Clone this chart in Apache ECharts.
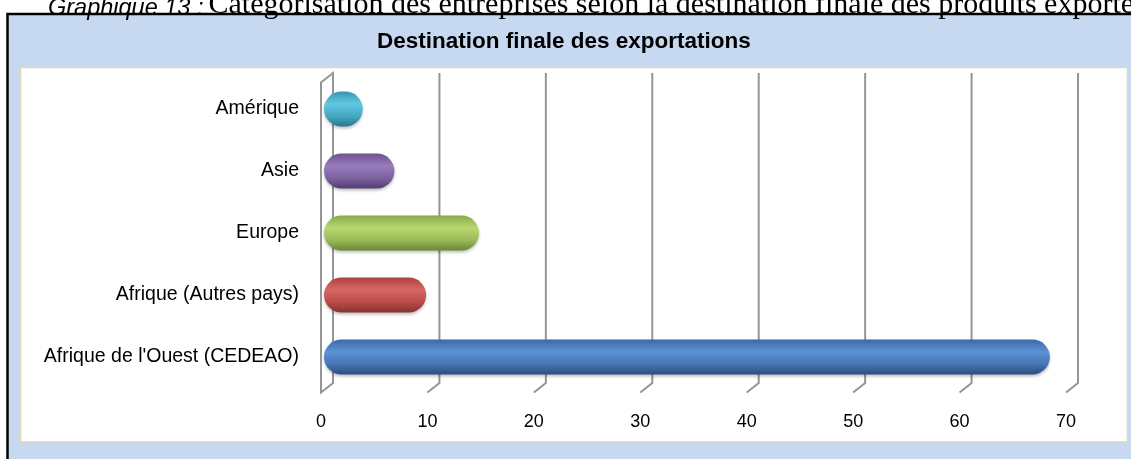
<!DOCTYPE html>
<html>
<head>
<meta charset="utf-8">
<script src="https://cdn.jsdelivr.net/npm/echarts@6/dist/echarts.min.js"></script>
<style>
  body { margin: 0; background: #fff; }
  #chart { width: 1131px; height: 459px; }
</style>
</head>
<body>
<div id="chart"></div>
<script>
// categories from bottom to top (category axis runs upward)
const categories = [
  "Afrique de l'Ouest (CEDEAO)",
  "Afrique (Autres pays)",
  "Europe",
  "Asie",
  "Amérique",
];
const values = [68, 9, 14, 6, 3];
const xTicks = [0, 10, 20, 30, 40, 50, 60, 70];
// [edge, highlight, body, shadow] per bar
const barColors = [
  ["#3c6aa3", "#5c92d4", "#4676b5", "#2a4f7e"],
  ["#a8423f", "#d96764", "#bb4c49", "#863130"],
  ["#88a74a", "#b9d870", "#9bbb59", "#6b8733"],
  ["#6c5190", "#987cbd", "#7d62a0", "#533d71"],
  ["#3896b0", "#62c7e2", "#45a9c4", "#28778d"],
];

const chart = echarts.init(document.getElementById("chart"));

const cylinder = (c) =>
  new echarts.graphic.LinearGradient(0, 0, 0, 1, [
    { offset: 0, color: c[0] },
    { offset: 0.35, color: c[1] },
    { offset: 0.7, color: c[2] },
    { offset: 1, color: c[3] },
  ]);

// 3D-ish wall: back gridlines with a short diagonal foot, left wall for 0
const depthX = 12;
const depthY = 9.5;
const renderGrid = (params, api) => {
  const x = api.coord([api.value(0), 0])[0];
  const cs = params.coordSys;
  const top = cs.y;
  const bottom = cs.y + cs.height;
  const style = { stroke: "#959595", lineWidth: 2, fill: null };
  if (api.value(0) === 0) {
    return {
      type: "polygon",
      shape: {
        points: [
          [x, top],
          [x, bottom],
          [x - depthX, bottom + depthY],
          [x - depthX, top + depthY],
        ],
      },
      style: style,
    };
  }
  return {
    type: "polyline",
    shape: {
      points: [
        [x, top],
        [x, bottom],
        [x - depthX, bottom + depthY],
      ],
    },
    style: style,
  };
};

// capsule bars: rounded caps stick out a little past both ends
const barH = 35;
const renderBar = (params, api) => {
  const idx = api.value(1);
  const start = api.coord([0, idx]);
  const end = api.coord([api.value(0), idx]);
  const x0 = start[0] - 3;
  const x1 = end[0] + 4;
  return {
    type: "rect",
    shape: {
      x: x0,
      y: start[1] - barH / 2,
      width: x1 - x0,
      height: barH,
      r: barH / 2,
    },
    style: {
      fill: cylinder(barColors[idx]),
      shadowBlur: 3,
      shadowOffsetY: 2,
      shadowColor: "rgba(0,0,0,0.25)",
    },
  };
};

const option = {
  animation: false,
  title: [
    {
      text: "{a|Graphique 13 :} {b|Catégorisation des entreprises selon la destination finale des produits exportés}",
      left: 48,
      top: -10,
      padding: 0,
      textStyle: {
        fontWeight: "normal",
        rich: {
          a: {
            fontFamily: "Liberation Sans",
            fontStyle: "italic",
            fontWeight: "normal",
            fontSize: 23.5,
            verticalAlign: "bottom",
            color: "#000",
          },
          b: {
            fontFamily: "Liberation Serif",
            fontWeight: "normal",
            fontSize: 30,
            verticalAlign: "bottom",
            color: "#000",
          },
        },
      },
    },
    {
      text: "Destination finale des exportations",
      left: 372,
      top: 25,
      textStyle: {
        fontFamily: "Liberation Sans",
        fontWeight: "bold",
        fontSize: 22.5,
        color: "#000",
      },
    },
  ],
  graphic: [
    {
      type: "rect",
      z: -10,
      shape: { x: 7.5, y: 14, width: 1140, height: 470 },
      style: { fill: "#c6d9f1", stroke: "#000", lineWidth: 2.5 },
    },
    {
      type: "rect",
      z: -9,
      shape: { x: 20.5, y: 67.5, width: 1107, height: 374.5 },
      style: { fill: "#fff", stroke: "#ddd8c0", lineWidth: 1.5 },
    },
  ],
  grid: [
    { left: 333, width: 745, top: 73, height: 310 },
    { left: 327, width: 740, top: 78, height: 310 },
    { left: 321, width: 745, top: 83, height: 309 },
  ],
  xAxis: [
    { gridIndex: 0, type: "value", min: 0, max: 70, interval: 10, show: false },
    { gridIndex: 1, type: "value", min: 0, max: 70, interval: 10, show: false },
    {
      gridIndex: 2,
      type: "value",
      min: 0,
      max: 70,
      interval: 10,
      axisLine: { show: false },
      axisTick: { show: false },
      splitLine: { show: false },
      axisLabel: {
        margin: 21,
        fontFamily: "Liberation Sans",
        fontSize: 18,
        color: "#000",
        customValues: xTicks,
      },
    },
  ],
  yAxis: [
    { gridIndex: 0, type: "value", min: 0, max: 1, show: false },
    {
      gridIndex: 1,
      type: "category",
      data: categories,
      axisLine: { show: false },
      axisTick: { show: false },
      axisLabel: {
        margin: 28,
        fontFamily: "Liberation Sans",
        fontSize: 19.5,
        color: "#000",
      },
    },
    { gridIndex: 2, type: "value", min: 0, max: 1, show: false },
  ],
  series: [
    {
      type: "custom",
      xAxisIndex: 0,
      yAxisIndex: 0,
      renderItem: renderGrid,
      data: xTicks.map((v) => [v]),
      silent: true,
      z: 1,
    },
    {
      type: "custom",
      xAxisIndex: 1,
      yAxisIndex: 1,
      renderItem: renderBar,
      encode: { x: 0, y: 1 },
      data: values.map((v, i) => [v, i]),
      z: 3,
    },
  ],
};

chart.setOption(option);
</script>
</body>
</html>
